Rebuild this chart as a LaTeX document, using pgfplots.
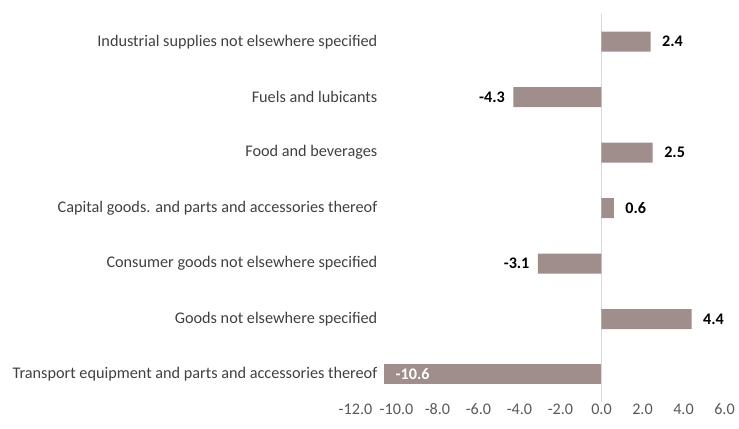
\documentclass[border=0pt]{standalone}
\usepackage{pgfplots}
\pgfplotsset{compat=1.18}
\usepackage{fontspec}
\setmainfont{Carlito}
\definecolor{barc}{HTML}{A08E8C}
\definecolor{labc}{HTML}{404040}
\definecolor{tickc}{HTML}{595959}
\definecolor{zeroc}{HTML}{D9D9D9}
\begin{document}
\begin{tikzpicture}
\path[use as bounding box] (-355.5bp,-26.8bp) rectangle (383.5bp,402.2bp);
\begin{axis}[
  at={(0,0)}, anchor=south west,
  scale only axis, width=369bp, height=388.2bp,
  xmin=-12, xmax=6, ymin=-0.5, ymax=6.5,
  xtick={-12,-10,...,6},
  ytick={0,...,6},
  yticklabels={Transport equipment and parts and accessories thereof,
    Goods not elsewhere specified,
    Consumer goods not elsewhere specified,
    Capital goods. and parts and accessories thereof,
    Food and beverages,
    Fuels and lubicants,
    Industrial supplies not elsewhere specified},
  axis line style={draw=none},
  major tick length=0pt,
  xticklabel style={font=\fontsize{16.2}{18}\selectfont, text=tickc, inner sep=0pt, yshift=-1.5bp,
    /pgf/number format/fixed, /pgf/number format/fixed zerofill, /pgf/number format/precision=1, /pgf/number format/assume math mode=true},
  yticklabel style={font=\fontsize{16.3}{18}\selectfont, text=labc, anchor=east, inner sep=0pt, xshift=22bp},
  extra x ticks={0}, extra x tick labels={},
  extra x tick style={grid=major, major grid style={zeroc, line width=1.5bp}},
  xbar, bar width=20bp, bar shift=0pt,
  nodes near coords,
  every node near coord/.append style={font=\fontsize{16.2}{18}\selectfont\bfseries, text=black,
    /pgf/number format/fixed, /pgf/number format/fixed zerofill, /pgf/number format/precision=1, /pgf/number format/assume math mode=true},
  clip=false,
]
\addplot[fill=barc, draw=none,
  every node near coord/.append style={anchor=west, xshift=8bp}]
  coordinates {(2.4,6) (2.5,4) (0.6,3) (4.4,1)};
\addplot[fill=barc, draw=none,
  every node near coord/.append style={anchor=east, xshift=-5bp}]
  coordinates {(-4.3,5) (-3.1,2)};
\addplot[fill=barc, draw=none,
  every node near coord/.append style={anchor=west, xshift=8bp, text=white}]
  coordinates {(-10.6,0)};
\end{axis}
\end{tikzpicture}
\end{document}
